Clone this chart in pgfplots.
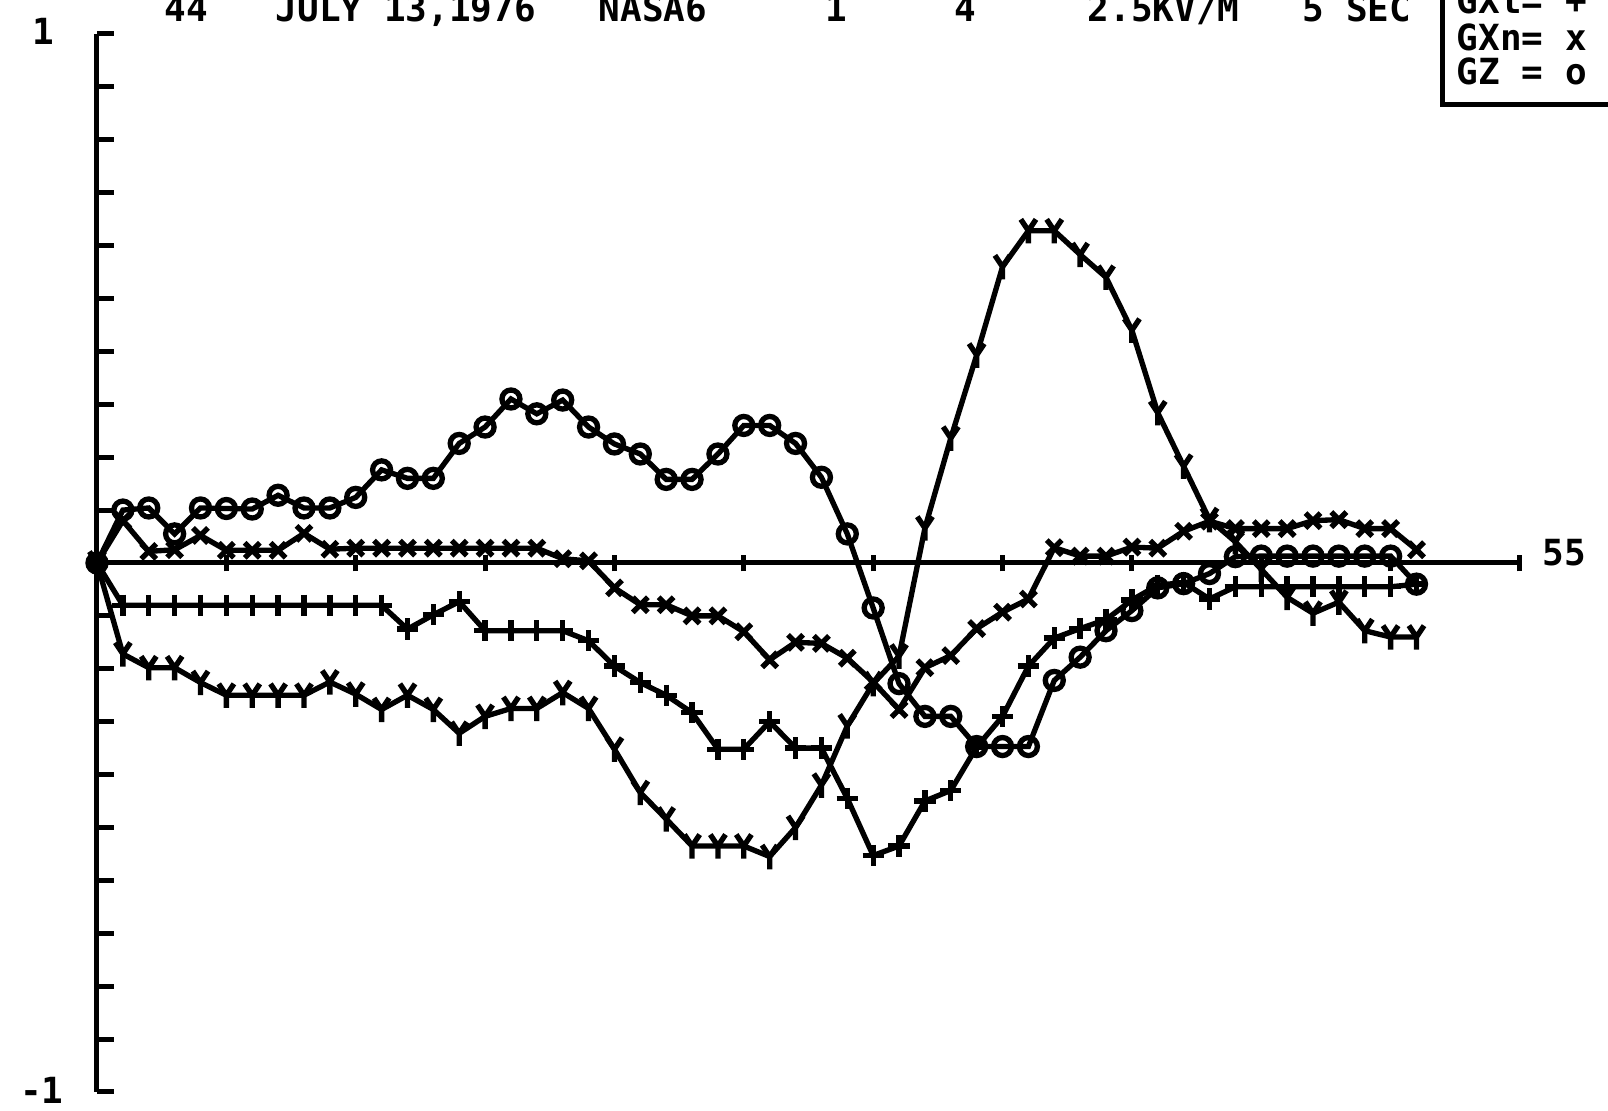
\documentclass[border=0pt]{standalone}
\usepackage{fontspec}
\setmainfont{DejaVu Sans Mono}
\usepackage{pgfplots}
\pgfplotsset{compat=1.18}

\pgfdeclareplotmark{Ymk}{%
  \pgfpathmoveto{\pgfqpoint{-0.6\pgfplotmarksize}{0.9\pgfplotmarksize}}%
  \pgfpathlineto{\pgfqpoint{0pt}{0pt}}%
  \pgfpathlineto{\pgfqpoint{0.6\pgfplotmarksize}{0.9\pgfplotmarksize}}%
  \pgfpathmoveto{\pgfqpoint{0pt}{0pt}}%
  \pgfpathlineto{\pgfqpoint{0pt}{-\pgfplotmarksize}}%
  \pgfusepathqstroke}

\begin{document}
\begin{tikzpicture}
\useasboundingbox (0pt,0pt) rectangle (482.4pt,-333.3pt);
\begin{axis}[
  at={(29.1pt,-327.6pt)}, anchor=south west,
  scale only axis, width=426.9pt, height=317.4pt,
  xmin=0, xmax=55, ymin=-1, ymax=1,
  axis x line*=middle, axis y line*=left,
  axis line style={line width=1.5pt, black},
  xtick={0,5,...,55}, xticklabels={},
  ytick={-1,-0.9,...,1}, yticklabels={},
  xtick align=center, ytick align=inside,
  major tick length=5pt,
  every tick/.style={black, line width=1.5pt},
  clip=false,
]
% GXt = +
\addplot[black, line width=1.6pt, mark=+, mark size=3.2pt] table {
x y
0 0
1 -0.08
2 -0.08
3 -0.08
4 -0.08
5 -0.08
6 -0.08
7 -0.08
8 -0.08
9 -0.08
10 -0.08
11 -0.08
12 -0.125
13 -0.098
14 -0.073
15 -0.128
16 -0.128
17 -0.128
18 -0.128
19 -0.147
20 -0.195
21 -0.226
22 -0.25
23 -0.283
24 -0.352
25 -0.352
26 -0.30
27 -0.35
28 -0.35
29 -0.445
30 -0.553
31 -0.535
32 -0.45
33 -0.43
34 -0.348
35 -0.29
36 -0.195
37 -0.142
38 -0.124
39 -0.107
40 -0.07
41 -0.042
42 -0.037
43 -0.068
44 -0.045
45 -0.045
46 -0.045
47 -0.045
48 -0.045
49 -0.045
50 -0.045
51 -0.04
};
% GXn = x
\addplot[black, line width=1.6pt, mark=x, mark size=3.2pt] table {
x y
0 0
1 0.08
2 0.022
3 0.025
4 0.052
5 0.024
6 0.024
7 0.024
8 0.056
9 0.026
10 0.028
11 0.028
12 0.028
13 0.028
14 0.028
15 0.028
16 0.028
17 0.028
18 0.008
19 0.004
20 -0.047
21 -0.079
22 -0.079
23 -0.1
24 -0.1
25 -0.13
26 -0.183
27 -0.15
28 -0.152
29 -0.18
30 -0.225
31 -0.277
32 -0.198
33 -0.175
34 -0.124
35 -0.093
36 -0.068
37 0.029
38 0.013
39 0.013
40 0.03
41 0.028
42 0.06
43 0.079
44 0.065
45 0.065
46 0.065
47 0.08
48 0.082
49 0.065
50 0.065
51 0.025
};
% GZ = o
\addplot[black, line width=1.6pt, mark=o, mark size=2.7pt] table {
x y
0 0
1 0.10
2 0.104
3 0.055
4 0.104
5 0.103
6 0.102
7 0.128
8 0.104
9 0.104
10 0.124
11 0.176
12 0.16
13 0.16
14 0.226
15 0.257
16 0.31
17 0.282
18 0.308
19 0.257
20 0.225
21 0.206
22 0.158
23 0.158
24 0.206
25 0.26
26 0.26
27 0.226
28 0.162
29 0.055
30 -0.085
31 -0.228
32 -0.29
33 -0.29
34 -0.347
35 -0.347
36 -0.347
37 -0.222
38 -0.178
39 -0.128
40 -0.09
41 -0.047
42 -0.039
43 -0.02
44 0.012
45 0.013
46 0.013
47 0.013
48 0.013
49 0.013
50 0.013
51 -0.04
};
% fourth series = Y
\addplot[black, line width=1.6pt, mark=Ymk, mark size=3.8pt] table {
x y
0 0
1 -0.172
2 -0.198
3 -0.198
4 -0.226
5 -0.25
6 -0.25
7 -0.25
8 -0.25
9 -0.225
10 -0.248
11 -0.277
12 -0.25
13 -0.277
14 -0.322
15 -0.29
16 -0.275
17 -0.275
18 -0.245
19 -0.275
20 -0.352
21 -0.434
22 -0.484
23 -0.535
24 -0.535
25 -0.535
26 -0.555
27 -0.5
28 -0.42
29 -0.308
30 -0.228
31 -0.176
32 0.066
33 0.236
34 0.393
35 0.56
36 0.628
37 0.628
38 0.583
39 0.54
40 0.44
41 0.284
42 0.183
43 0.082
44 0.04
45 -0.012
46 -0.065
47 -0.095
48 -0.074
49 -0.128
50 -0.14
51 -0.14
};
\end{axis}
\begin{scope}[x=0.3pt,y=0.3pt]
% tick labels
\node[font=\bfseries\fontsize{10.8}{12}\selectfont, inner sep=0pt] at (43,-31) {1};
\node[font=\bfseries\fontsize{10.8}{12}\selectfont, inner sep=0pt] at (42,-1090) {-1};
\node[font=\bfseries\fontsize{10.8}{12}\selectfont, inner sep=0pt] at (1564,-553) {55};
% title
\begin{scope}[every node/.style={font=\bfseries\fontsize{10.8}{12}\selectfont, inner sep=0pt, anchor=base west}]
\node at (164,-22) {44};
\node at (275,-22) {JULY 13,1976};
\node at (598,-22) {NASA6};
\node[anchor=base] at (836,-22) {1};
\node[anchor=base] at (965,-22) {4};
\node at (1087,-22) {2.5KV/M};
\node at (1302,-22) {5 SEC};
% legend
\node at (1456,-14) {GXt= +};
\node at (1456,-51) {GXn= x};
\node at (1456,-85) {GZ = o};
\end{scope}
\draw[line width=1.5pt] (1442,10) -- (1442,-105) -- (1620,-105);
\end{scope}
\end{tikzpicture}
\end{document}
